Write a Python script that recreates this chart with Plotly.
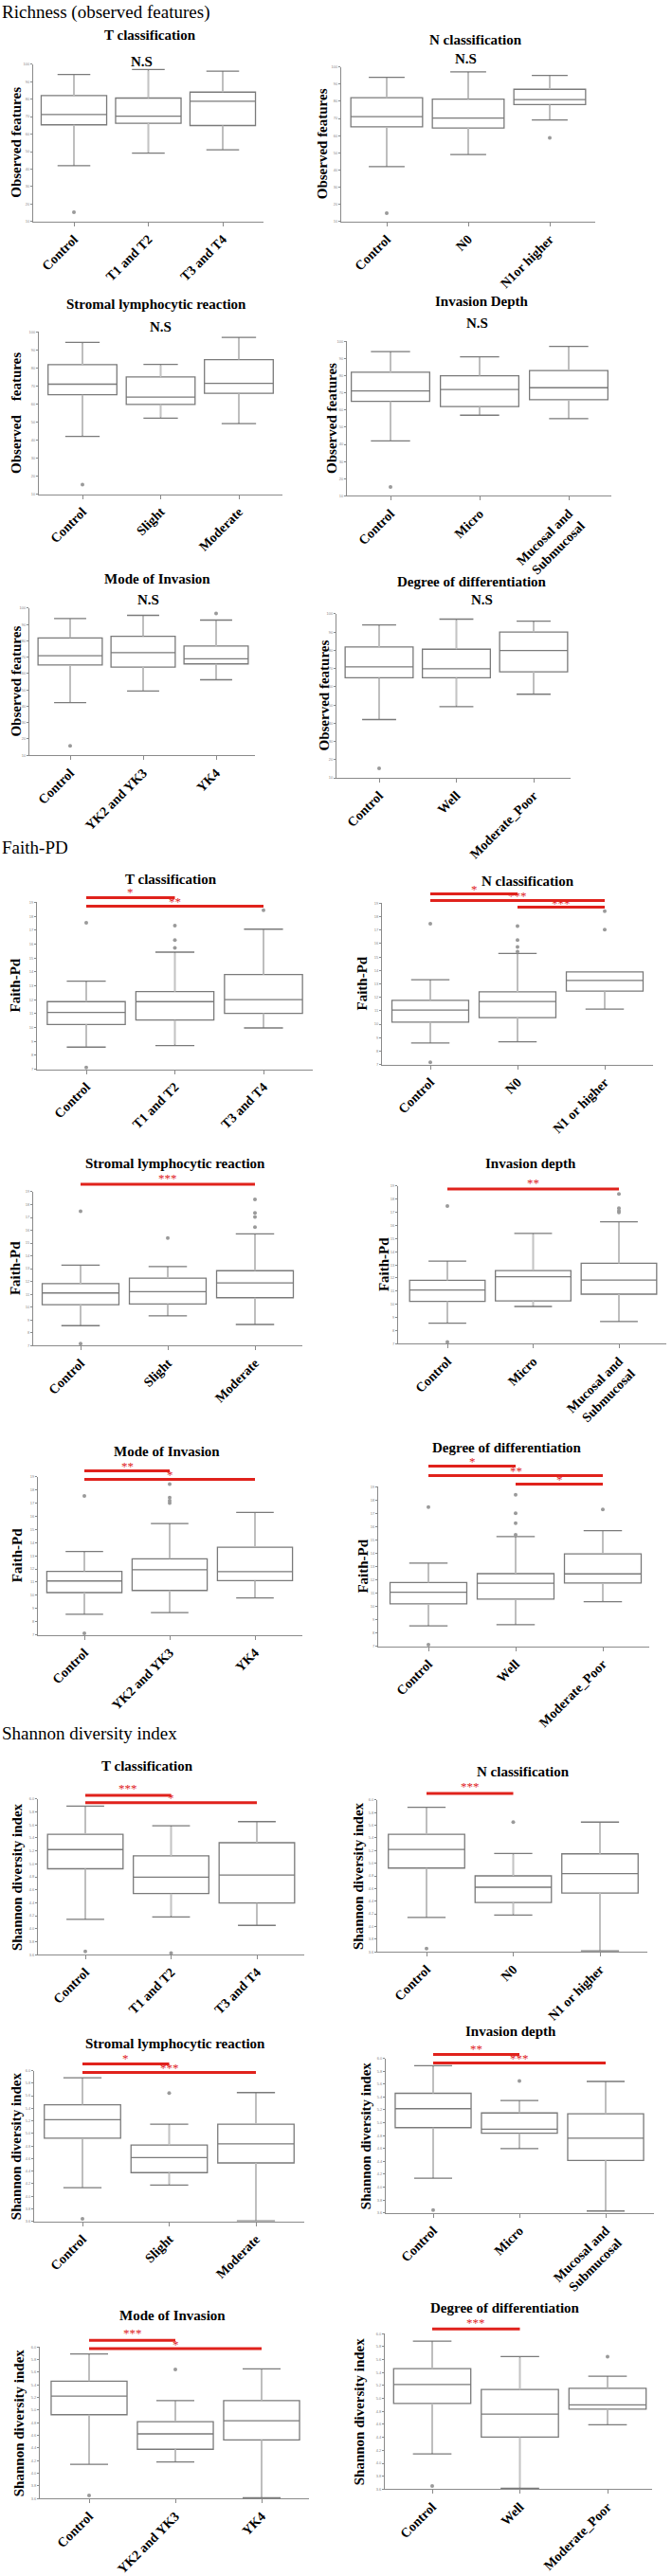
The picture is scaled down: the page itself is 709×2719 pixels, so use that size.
import plotly.graph_objects as go

W, H = 709, 2719

# ---------------- categories ----------------
T_CATS = ["Control", "T1 and T2", "T3 and T4"]
N_CATS_RICH = ["Control", "N0", "N1or higher"]
N_CATS = ["Control", "N0", "N1 or higher"]
SLR_CATS = ["Control", "Slight", "Moderate"]
DEPTH_CATS = ["Control", "Micro", "Mucosal and<br>Submucosal"]
MODE_CATS = ["Control", "YK2 and YK3", "YK4"]
DIFF_CATS = ["Control", "Well", "Moderate_Poor"]

# ---------------- Richness (observed features) ----------------
rich_T = dict(lo=[42.0, 49.1, 51.0], q1=[65.3, 66.2, 64.9], med=[71.2, 70.3, 78.8], q3=[82.0, 80.6, 84.0], hi=[94.1, 96.9, 96.0])
rich_T_out_x, rich_T_out_y = [0], [15.4]
rich_N = dict(lo=[42.0, 49.0, 69.1], q1=[65.1, 64.5, 78.1], med=[71.1, 70.2, 81.0], q3=[82.1, 81.3, 87.0], hi=[94.0, 97.1, 95.1])
rich_N_out_x, rich_N_out_y = [0, 2], [14.9, 58.8]
rich_S = dict(lo=[42.0, 52.1, 49.1], q1=[65.1, 59.8, 65.9], med=[71.0, 63.8, 71.5], q3=[81.8, 75.0, 84.6], hi=[94.2, 82.0, 97.0])
rich_S_out_x, rich_S_out_y = [0], [15.2]
rich_D = dict(lo=[42.0, 57.0, 55.0], q1=[65.1, 62.0, 66.0], med=[71.1, 72.0, 73.0], q3=[82.0, 80.0, 83.0], hi=[94.0, 91.0, 97.0])
rich_D_out_x, rich_D_out_y = [0], [15.2]
rich_M = dict(lo=[42.2, 49.3, 56.2], q1=[65.2, 64.0, 65.9], med=[70.9, 72.8, 69.0], q3=[81.8, 82.8, 76.8], hi=[93.7, 95.6, 92.7])
rich_M_out_x, rich_M_out_y = [0, 2], [15.7, 96.7]
rich_G = dict(lo=[42.0, 49.1, 55.9], q1=[64.9, 64.9, 68.2], med=[70.9, 69.9, 79.9], q3=[81.8, 80.6, 90.0], hi=[93.9, 97.1, 96.0])
rich_G_out_x, rich_G_out_y = [0], [15.2]

# ---------------- Faith-PD ----------------
faith_T = dict(lo=[8.59, 8.70, 9.97], q1=[10.22, 10.54, 11.02], med=[11.09, 11.86, 12.00], q3=[11.86, 12.58, 13.81], hi=[13.33, 15.42, 17.07])
faith_T_out_x, faith_T_out_y = [0, 0, 1, 1, 1, 2], [17.53, 7.12, 17.32, 16.28, 15.73, 18.43]
faith_N = dict(lo=[8.60, 8.69, 11.12], q1=[10.16, 10.49, 12.46], med=[11.05, 11.69, 13.26], q3=[11.78, 12.41, 13.89], hi=[13.31, 15.27, 13.89])
faith_N_out_x, faith_N_out_y = [0, 0, 1, 1, 1, 1, 2, 2], [17.48, 7.16, 17.30, 16.27, 15.75, 15.40, 18.41, 17.03]
faith_S = dict(lo=[8.55, 9.31, 8.64], q1=[10.19, 10.24, 10.73], med=[11.10, 11.20, 11.88], q3=[11.83, 12.25, 12.84], hi=[13.28, 13.16, 15.71])
faith_S_out_x, faith_S_out_y = [0, 0, 1, 2, 2, 2, 2], [17.48, 7.15, 15.39, 18.41, 17.36, 17.04, 16.25]
faith_D = dict(lo=[8.56, 9.83, 8.68], q1=[10.22, 10.26, 10.77], med=[11.08, 12.09, 11.84], q3=[11.82, 12.57, 13.12], hi=[13.29, 15.40, 16.29])
faith_D_out_x, faith_D_out_y = [0, 0, 2, 2, 2, 2], [17.49, 7.12, 18.40, 17.32, 17.13, 17.00]
faith_M = dict(lo=[8.57, 8.69, 9.80], q1=[10.21, 10.37, 11.11], med=[11.09, 11.94, 11.80], q3=[11.82, 12.77, 13.65], hi=[13.32, 15.44, 16.29])
faith_M_out_x, faith_M_out_y = [0, 0, 1, 1, 1, 1], [17.53, 7.12, 18.43, 17.41, 17.17, 17.00]
faith_G = dict(lo=[8.54, 8.63, 10.36], q1=[10.19, 10.55, 11.76], med=[11.07, 11.75, 12.45], q3=[11.80, 12.47, 13.96], hi=[13.27, 15.26, 15.71])
faith_G_out_x, faith_G_out_y = [0, 0, 1, 1, 1, 1, 2], [17.49, 7.12, 18.41, 17.02, 16.26, 15.39, 17.30]

# ---------------- Shannon diversity index ----------------
shan_T = dict(lo=[4.143, 4.182, 4.051], q1=[4.924, 4.541, 4.395], med=[5.220, 4.793, 4.827], q3=[5.457, 5.122, 5.326], hi=[5.890, 5.588, 5.651])
shan_T_out_x, shan_T_out_y = [0, 1], [3.648, 3.624]
shan_N = dict(lo=[4.142, 4.180, 3.615], q1=[4.924, 4.380, 4.530], med=[5.218, 4.620, 4.835], q3=[5.457, 4.800, 5.148], hi=[5.885, 5.153, 5.650])
shan_N_out_x, shan_N_out_y = [0, 1], [3.650, 5.650]
shan_S = dict(lo=[4.137, 4.177, 3.610], q1=[4.924, 4.376, 4.531], med=[5.218, 4.616, 4.835], q3=[5.457, 4.815, 5.148], hi=[5.885, 5.148, 5.650])
shan_S_out_x, shan_S_out_y = [0, 1], [3.640, 5.641]
shan_D = dict(lo=[4.140, 4.600, 3.630], q1=[4.924, 4.837, 4.416], med=[5.218, 4.900, 4.760], q3=[5.457, 5.152, 5.138], hi=[5.885, 5.346, 5.641])
shan_D_out_x, shan_D_out_y = [0, 1], [3.645, 5.650]
shan_M = dict(lo=[4.142, 4.181, 3.615], q1=[4.927, 4.380, 4.529], med=[5.220, 4.624, 4.832], q3=[5.458, 4.817, 5.150], hi=[5.886, 5.150, 5.652])
shan_M_out_x, shan_M_out_y = [0, 1], [3.650, 5.642]
shan_G = dict(lo=[4.145, 3.615, 4.593], q1=[4.924, 4.403, 4.836], med=[5.216, 4.759, 4.900], q3=[5.460, 5.138, 5.158], hi=[5.883, 5.645, 5.343])
shan_G_out_x, shan_G_out_y = [0, 2], [3.649, 5.645]

# significance comparisons: (group i, group j, label)
SIG_FAITH_T = [(0, 1, "*"), (0, 2, "**")]
SIG_FAITH_N = [(0, 1, "*"), (0, 2, "***"), (1, 2, "***")]
SIG_FAITH_S = [(0, 2, "***")]
SIG_FAITH_D = [(0, 2, "**")]
SIG_FAITH_M = [(0, 1, "**"), (0, 2, "*")]
SIG_FAITH_G = [(0, 1, "*"), (0, 2, "**"), (1, 2, "*")]
SIG_SHAN_T = [(0, 1, "***"), (0, 2, "*")]
SIG_SHAN_N = [(0, 1, "***")]
SIG_SHAN_S = [(0, 1, "*"), (0, 2, "***")]
SIG_SHAN_D = [(0, 1, "**"), (0, 2, "***")]
SIG_SHAN_M = [(0, 1, "***"), (0, 2, "*")]
SIG_SHAN_G = [(0, 1, "***")]

RICH_Y = (10, 100, 10, "Observed features")
FAITH_Y = (7, 19, 1, "Faith-Pd")
SHAN_Y = (3.6, 6.0, 0.2, "Shannon diversity index")

# ---------------- layout geometry (pixels) ----------------
PANELS = [
    dict(stats=rich_T, ox=rich_T_out_x, oy=rich_T_out_y, cats=T_CATS, yax=RICH_Y, title="T classification",
         box=(35, 278, 65, 232), c=(78, 235), t=(158, 34), ns=(149, 62), ytx=17, sig=[], sigy=[]),
    dict(stats=rich_N, ox=rich_N_out_x, oy=rich_N_out_y, cats=N_CATS_RICH, yax=RICH_Y, title="N classification",
         box=(360, 628, 68, 232), c=(408, 580), t=(502, 39), ns=(491, 59), ytx=340, sig=[], sigy=[]),
    dict(stats=rich_S, ox=rich_S_out_x, oy=rich_S_out_y, cats=SLR_CATS, yax=(10, 100, 10, "Observed\u00a0\u00a0\u00a0\u00a0features"),
         title="Stromal lymphocytic reaction",
         box=(41, 298, 349, 521), c=(87, 252), t=(165, 320), ns=(169, 344), ytx=17, sig=[], sigy=[]),
    dict(stats=rich_D, ox=rich_D_out_x, oy=rich_D_out_y, cats=DEPTH_CATS, yax=RICH_Y, title="Invasion Depth",
         box=(366, 645, 359, 523), c=(412, 600), t=(508, 317), ns=(503, 340), ytx=350, sig=[], sigy=[]),
    dict(stats=rich_M, ox=rich_M_out_x, oy=rich_M_out_y, cats=MODE_CATS, yax=RICH_Y, title="Mode of Invasion",
         box=(31, 269, 642, 798), c=(74, 228), t=(166, 611), ns=(156, 633), ytx=17, sig=[], sigy=[]),
    dict(stats=rich_G, ox=rich_G_out_x, oy=rich_G_out_y, cats=DIFF_CATS, yax=RICH_Y, title="Degree of differentiation",
         box=(355, 602, 648, 822), c=(400, 563), t=(498, 614), ns=(508, 633), ytx=342, sig=[], sigy=[]),

    dict(stats=faith_T, ox=faith_T_out_x, oy=faith_T_out_y, cats=T_CATS, yax=FAITH_Y, title="T classification",
         box=(39, 330, 954, 1131), c=(91, 278), t=(180, 929), ns=None, ytx=16,
         sig=SIG_FAITH_T, sigy=[(949, 943), (958, 953)]),
    dict(stats=faith_N, ox=faith_N_out_x, oy=faith_N_out_y, cats=N_CATS, yax=FAITH_Y, title="N classification",
         box=(403, 689, 955, 1126), c=(454, 638), t=(557, 931), ns=None, ytx=382,
         sig=SIG_FAITH_N, sigy=[(945, 940), (952, 947), (959, 955)]),
    dict(stats=faith_S, ox=faith_S_out_x, oy=faith_S_out_y, cats=SLR_CATS, yax=FAITH_Y, title="Stromal lymphocytic reaction",
         box=(35, 319, 1261, 1424), c=(85, 269), t=(185, 1231), ns=None, ytx=16,
         sig=SIG_FAITH_S, sigy=[(1253, 1246)]),
    dict(stats=faith_D, ox=faith_D_out_x, oy=faith_D_out_y, cats=DEPTH_CATS, yax=FAITH_Y, title="Invasion depth",
         box=(420, 703, 1255, 1422), c=(472, 653), t=(560, 1231), ns=None, ytx=405,
         sig=SIG_FAITH_D, sigy=[(1258, 1251)]),
    dict(stats=faith_M, ox=faith_M_out_x, oy=faith_M_out_y, cats=MODE_CATS, yax=FAITH_Y, title="Mode of Invasion",
         box=(40, 319, 1563, 1731), c=(89, 269), t=(176, 1536), ns=None, ytx=18,
         sig=SIG_FAITH_M, sigy=[(1557, 1552), (1566, 1561)]),
    dict(stats=faith_G, ox=faith_G_out_x, oy=faith_G_out_y, cats=DIFF_CATS, yax=FAITH_Y, title="Degree of differentiation",
         box=(399, 685, 1574, 1743), c=(452, 636), t=(535, 1532), ns=None, ytx=383,
         sig=SIG_FAITH_G, sigy=[(1552, 1547), (1562, 1557), (1571, 1566)]),

    dict(stats=shan_T, ox=shan_T_out_x, oy=shan_T_out_y, cats=T_CATS, yax=SHAN_Y, title="T classification",
         box=(40, 321, 1905, 2070), c=(90, 271), t=(155, 1870), ns=None, ytx=18,
         sig=SIG_SHAN_T, sigy=[(1901, 1894), (1909, 1904)]),
    dict(stats=shan_N, ox=shan_N_out_x, oy=shan_N_out_y, cats=N_CATS, yax=SHAN_Y, title="N classification",
         box=(398, 683, 1906, 2067), c=(450, 633), t=(552, 1876), ns=None, ytx=378,
         sig=SIG_SHAN_N, sigy=[(1899, 1892)]),
    dict(stats=shan_S, ox=shan_S_out_x, oy=shan_S_out_y, cats=SLR_CATS, yax=SHAN_Y, title="Stromal lymphocytic reaction",
         box=(36, 321, 2193, 2353), c=(87, 270), t=(185, 2164), ns=None, ytx=17,
         sig=SIG_SHAN_S, sigy=[(2186, 2180), (2195, 2190)]),
    dict(stats=shan_D, ox=shan_D_out_x, oy=shan_D_out_y, cats=DEPTH_CATS, yax=SHAN_Y, title="Invasion depth",
         box=(407, 690, 2180, 2344), c=(457, 639), t=(539, 2151), ns=None, ytx=386,
         sig=SIG_SHAN_D, sigy=[(2176, 2170), (2185, 2180)]),
    dict(stats=shan_M, ox=shan_M_out_x, oy=shan_M_out_y, cats=MODE_CATS, yax=SHAN_Y, title="Mode of Invasion",
         box=(42, 326, 2486, 2647), c=(94, 276), t=(182, 2453), ns=None, ytx=20,
         sig=SIG_SHAN_M, sigy=[(2479, 2471), (2488, 2483)]),
    dict(stats=shan_G, ox=shan_G_out_x, oy=shan_G_out_y, cats=DIFF_CATS, yax=SHAN_Y, title="Degree of differentiation",
         box=(406, 688, 2472, 2637), c=(456, 641), t=(533, 2445), ns=None, ytx=379,
         sig=SIG_SHAN_G, sigy=[(2467, 2460)]),
]

HEADERS = [("Richness (observed features)", 10), ("Faith-PD", 896), ("Shannon diversity index", 1835)]

SERIF = "Liberation Serif, Times New Roman, serif"
RED = "#e0221c"
GRAY = "#7a7a7a"
STEM = "#c4c4c4"


def fx(px):
    return px / W


def fy(py):
    return 1 - py / H


fig = go.Figure()
layout = {}
annotations = []
shapes = []

for k, p in enumerate(PANELS, start=1):
    xr = "x" if k == 1 else f"x{k}"
    yr = "y" if k == 1 else f"y{k}"
    xa = "xaxis" if k == 1 else f"xaxis{k}"
    ya = "yaxis" if k == 1 else f"yaxis{k}"
    left, right, top, bottom = p["box"]
    c0, c2 = p["c"]
    sp = (c2 - c0) / 2.0
    r0 = -(c0 - left) / sp
    r1 = 2 + (right - c2) / sp
    ymin, ymax, dt, ylab = p["yax"]
    s = p["stats"]

    fig.add_trace(go.Box(
        x=[0, 1, 2], q1=s["q1"], median=s["med"], q3=s["q3"],
        lowerfence=s["lo"], upperfence=s["hi"], orientation="v",
        xaxis=xr, yaxis=yr, width=0.88, whiskerwidth=0.5,
        fillcolor="white", line=dict(color=GRAY, width=1.3),
        boxpoints=False, showlegend=False, hoverinfo="skip"))
    # lighter whisker stems (as in the reference), drawn from the same statistics
    sx, sy = [], []
    for i in range(3):
        if s["hi"][i] > s["q3"][i]:
            sx += [i, i, None]
            sy += [s["q3"][i], s["hi"][i] - (ymax - ymin) * 0.006, None]
        if s["lo"][i] < s["q1"][i]:
            sx += [i, i, None]
            sy += [s["q1"][i], s["lo"][i] + (ymax - ymin) * 0.006, None]
    fig.add_trace(go.Scatter(
        x=sx, y=sy, mode="lines", xaxis=xr, yaxis=yr,
        line=dict(color=STEM, width=1.6), showlegend=False, hoverinfo="skip"))
    fig.add_trace(go.Scatter(
        x=p["ox"], y=p["oy"], mode="markers", xaxis=xr, yaxis=yr,
        marker=dict(size=4, color="#9a9a9a", line=dict(width=0)),
        showlegend=False, hoverinfo="skip", cliponaxis=False))

    layout[xa] = dict(domain=[fx(left), fx(right)], range=[r0, r1], anchor=yr,
                      tickmode="array", tickvals=[0, 1, 2],
                      ticktext=[f"<b>{c}</b>" for c in p["cats"]], tickangle=-45,
                      tickfont=dict(family=SERIF, size=14, color="black"),
                      showline=True, linecolor="#8a8a8a", linewidth=1,
                      ticks="outside", ticklen=4, tickcolor="#8a8a8a",
                      showgrid=False, zeroline=False, fixedrange=True)
    layout[ya] = dict(domain=[fy(bottom), fy(top)], range=[ymin, ymax], anchor=xr,
                      tick0=ymin, dtick=dt, tickformat=".1f" if dt < 1 else "d",
                      tickfont=dict(family="Arial", size=4, color="#888"),
                      showline=True, linecolor="#8a8a8a", linewidth=1,
                      ticks="outside", ticklen=2, tickcolor="#8a8a8a",
                      showgrid=False, zeroline=False, fixedrange=True)

    annotations.append(dict(x=fx(p["t"][0]), y=fy(p["t"][1]), xref="paper", yref="paper",
                            text=f"<b>{p['title']}</b>", showarrow=False,
                            xanchor="center", yanchor="middle",
                            font=dict(family=SERIF, size=15, color="black")))
    if p["ns"]:
        annotations.append(dict(x=fx(p["ns"][0]), y=fy(p["ns"][1]), xref="paper", yref="paper",
                                text="<b>N.S</b>", showarrow=False,
                                xanchor="center", yanchor="middle",
                                font=dict(family=SERIF, size=15, color="black")))
    annotations.append(dict(x=fx(p["ytx"]), y=fy((top + bottom) / 2.0), xref="paper", yref="paper",
                            text=f"<b>{ylab}</b>", showarrow=False, textangle=-90,
                            xanchor="center", yanchor="middle",
                            font=dict(family=SERIF, size=15, color="black")))
    for (i, j, lab), (by, ty) in zip(p["sig"], p["sigy"]):
        shapes.append(dict(type="line", xref=xr, yref="paper", x0=i, x1=j,
                           y0=fy(by), y1=fy(by), line=dict(color=RED, width=3)))
        annotations.append(dict(x=(i + j) / 2.0, y=fy(ty), xref=xr, yref="paper",
                                text=lab, showarrow=False, xanchor="center", yanchor="middle",
                                borderpad=0,
                                font=dict(family=SERIF, size=13, color=RED)))

for text, py in HEADERS:
    annotations.append(dict(x=0, y=fy(py), xref="paper", yref="paper", text=text,
                            showarrow=False, xanchor="left", yanchor="middle",
                            font=dict(family=SERIF, size=19, color="black")))

fig.update_layout(**layout)
fig.update_layout(width=W, height=H, autosize=False,
                  margin=dict(l=0, r=0, t=0, b=0, pad=0),
                  paper_bgcolor="white", plot_bgcolor="white",
                  annotations=annotations, shapes=shapes, showlegend=False)

fig.write_html("out.html")
